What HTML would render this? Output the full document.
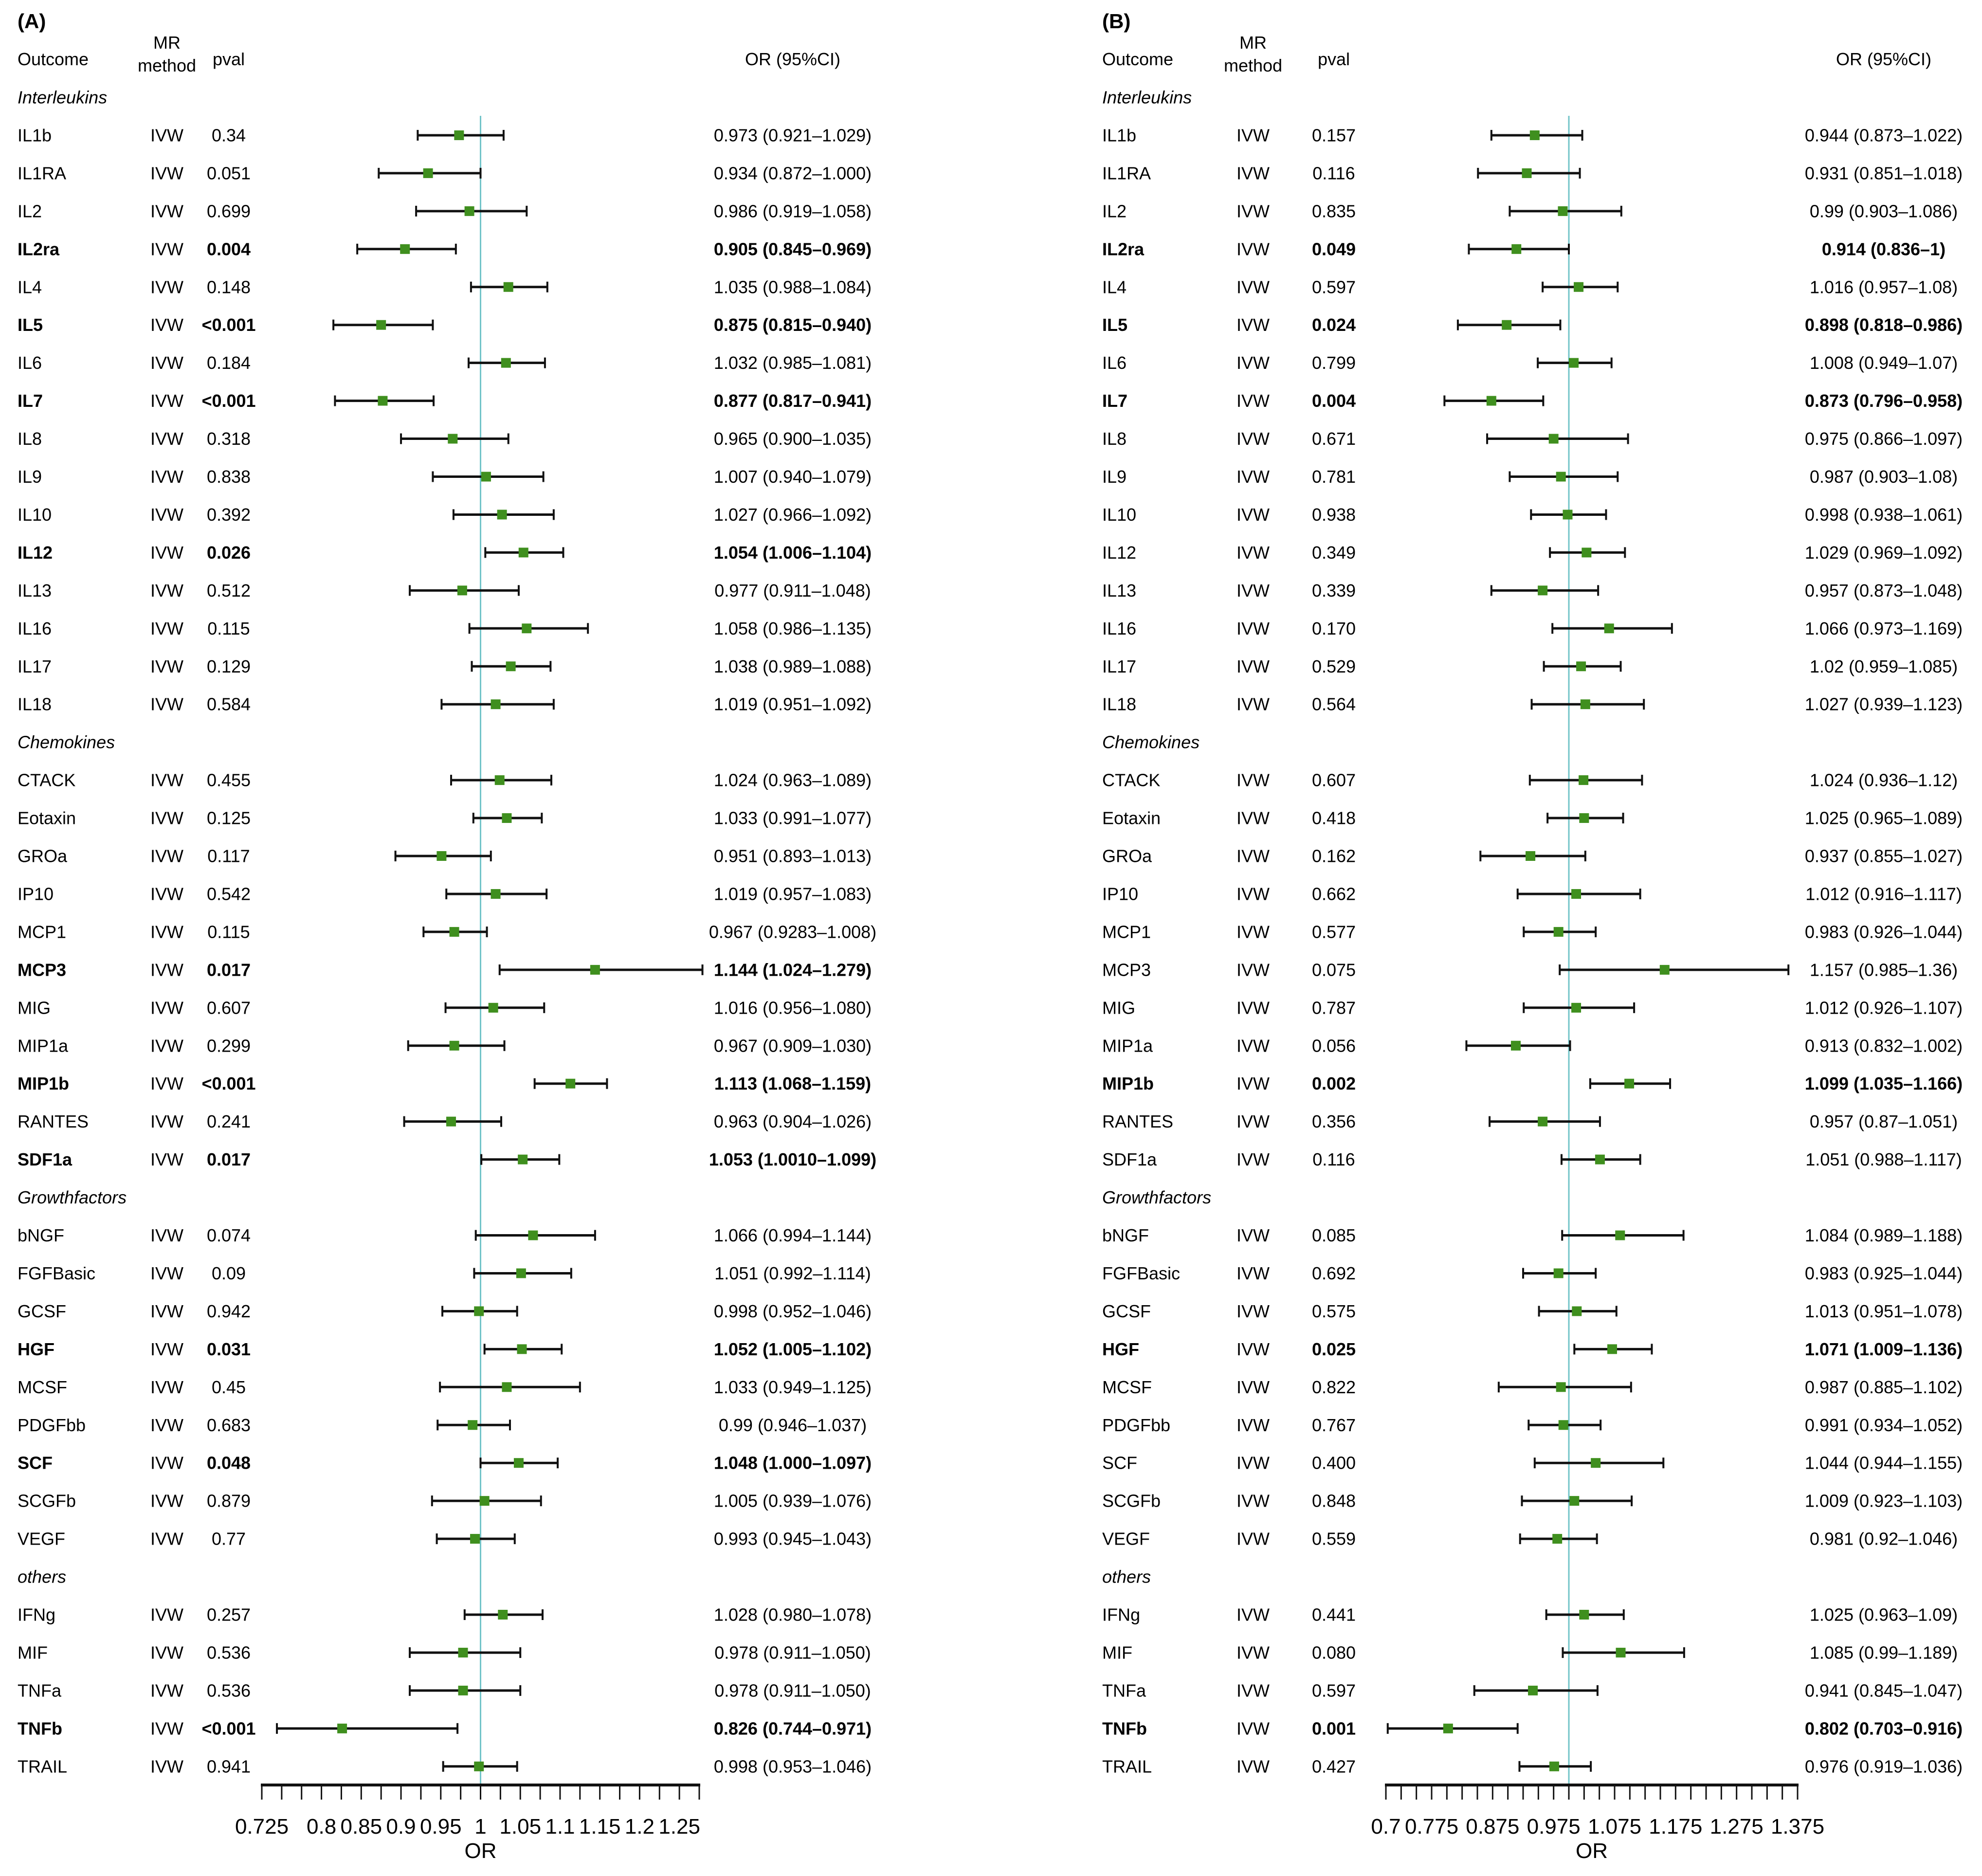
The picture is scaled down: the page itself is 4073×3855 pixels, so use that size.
<!DOCTYPE html>
<html><head><meta charset="utf-8"><style>
html,body{margin:0;padding:0;background:#fff}
svg{display:block;font-family:"Liberation Sans",sans-serif}
</style></head><body>
<svg id="chart" xmlns="http://www.w3.org/2000/svg" width="4073" height="3855" viewBox="0 0 4073 3855"></svg>
<script>
const rowNames = ["IL1b","IL1RA","IL2","IL2ra","IL4","IL5","IL6","IL7","IL8","IL9","IL10","IL12","IL13","IL16","IL17","IL18","CTACK","Eotaxin","GROa","IP10","MCP1","MCP3","MIG","MIP1a","MIP1b","RANTES","SDF1a","bNGF","FGFBasic","GCSF","HGF","MCSF","PDGFbb","SCF","SCGFb","VEGF","IFNg","MIF","TNFa","TNFb","TRAIL"];
const groupNames = ["Interleukins","Chemokines","Growthfactors","others"];
const groupSizes = [16,11,9,5];

const orA = [0.973,0.934,0.986,0.905,1.035,0.875,1.032,0.877,0.965,1.007,1.027,1.054,0.977,1.058,1.038,1.019,1.024,1.033,0.951,1.019,0.967,1.144,1.016,0.967,1.113,0.963,1.053,1.066,1.051,0.998,1.052,1.033,0.99,1.048,1.005,0.993,1.028,0.978,0.978,0.826,0.998];
const loA = [0.921,0.872,0.919,0.845,0.988,0.815,0.985,0.817,0.900,0.940,0.966,1.006,0.911,0.986,0.989,0.951,0.963,0.991,0.893,0.957,0.9283,1.024,0.956,0.909,1.068,0.904,1.001,0.994,0.992,0.952,1.005,0.949,0.946,1.000,0.939,0.945,0.980,0.911,0.911,0.744,0.953];
const hiA = [1.029,1.000,1.058,0.969,1.084,0.940,1.081,0.941,1.035,1.079,1.092,1.104,1.048,1.135,1.088,1.092,1.089,1.077,1.013,1.083,1.008,1.279,1.080,1.030,1.159,1.026,1.099,1.144,1.114,1.046,1.102,1.125,1.037,1.097,1.076,1.043,1.078,1.050,1.050,0.971,1.046];
const pA = ["0.34","0.051","0.699","0.004","0.148","<0.001","0.184","<0.001","0.318","0.838","0.392","0.026","0.512","0.115","0.129","0.584","0.455","0.125","0.117","0.542","0.115","0.017","0.607","0.299","<0.001","0.241","0.017","0.074","0.09","0.942","0.031","0.45","0.683","0.048","0.879","0.77","0.257","0.536","0.536","<0.001","0.941"];
const ciA = ["0.973 (0.921–1.029)","0.934 (0.872–1.000)","0.986 (0.919–1.058)","0.905 (0.845–0.969)","1.035 (0.988–1.084)","0.875 (0.815–0.940)","1.032 (0.985–1.081)","0.877 (0.817–0.941)","0.965 (0.900–1.035)","1.007 (0.940–1.079)","1.027 (0.966–1.092)","1.054 (1.006–1.104)","0.977 (0.911–1.048)","1.058 (0.986–1.135)","1.038 (0.989–1.088)","1.019 (0.951–1.092)","1.024 (0.963–1.089)","1.033 (0.991–1.077)","0.951 (0.893–1.013)","1.019 (0.957–1.083)","0.967 (0.9283–1.008)","1.144 (1.024–1.279)","1.016 (0.956–1.080)","0.967 (0.909–1.030)","1.113 (1.068–1.159)","0.963 (0.904–1.026)","1.053 (1.0010–1.099)","1.066 (0.994–1.144)","1.051 (0.992–1.114)","0.998 (0.952–1.046)","1.052 (1.005–1.102)","1.033 (0.949–1.125)","0.99 (0.946–1.037)","1.048 (1.000–1.097)","1.005 (0.939–1.076)","0.993 (0.945–1.043)","1.028 (0.980–1.078)","0.978 (0.911–1.050)","0.978 (0.911–1.050)","0.826 (0.744–0.971)","0.998 (0.953–1.046)"];
const ticksA = [0.725,0.8,0.85,0.9,0.95,1,1.05,1.1,1.15,1.2,1.25];
const tickLabelsA = ["0.725","0.8","0.85","0.9","0.95","1","1.05","1.1","1.15","1.2","1.25"];

const orB = [0.944,0.931,0.99,0.914,1.016,0.898,1.008,0.873,0.975,0.987,0.998,1.029,0.957,1.066,1.02,1.027,1.024,1.025,0.937,1.012,0.983,1.157,1.012,0.913,1.099,0.957,1.051,1.084,0.983,1.013,1.071,0.987,0.991,1.044,1.009,0.981,1.025,1.085,0.941,0.802,0.976];
const loB = [0.873,0.851,0.903,0.836,0.957,0.818,0.949,0.796,0.866,0.903,0.938,0.969,0.873,0.973,0.959,0.939,0.936,0.965,0.855,0.916,0.926,0.985,0.926,0.832,1.035,0.87,0.988,0.989,0.925,0.951,1.009,0.885,0.934,0.944,0.923,0.92,0.963,0.99,0.845,0.703,0.919];
const hiB = [1.022,1.018,1.086,1,1.08,0.986,1.07,0.958,1.097,1.08,1.061,1.092,1.048,1.169,1.085,1.123,1.12,1.089,1.027,1.117,1.044,1.36,1.107,1.002,1.166,1.051,1.117,1.188,1.044,1.078,1.136,1.102,1.052,1.155,1.103,1.046,1.09,1.189,1.047,0.916,1.036];
const pB = ["0.157","0.116","0.835","0.049","0.597","0.024","0.799","0.004","0.671","0.781","0.938","0.349","0.339","0.170","0.529","0.564","0.607","0.418","0.162","0.662","0.577","0.075","0.787","0.056","0.002","0.356","0.116","0.085","0.692","0.575","0.025","0.822","0.767","0.400","0.848","0.559","0.441","0.080","0.597","0.001","0.427"];
const ciB = ["0.944 (0.873–1.022)","0.931 (0.851–1.018)","0.99 (0.903–1.086)","0.914 (0.836–1)","1.016 (0.957–1.08)","0.898 (0.818–0.986)","1.008 (0.949–1.07)","0.873 (0.796–0.958)","0.975 (0.866–1.097)","0.987 (0.903–1.08)","0.998 (0.938–1.061)","1.029 (0.969–1.092)","0.957 (0.873–1.048)","1.066 (0.973–1.169)","1.02 (0.959–1.085)","1.027 (0.939–1.123)","1.024 (0.936–1.12)","1.025 (0.965–1.089)","0.937 (0.855–1.027)","1.012 (0.916–1.117)","0.983 (0.926–1.044)","1.157 (0.985–1.36)","1.012 (0.926–1.107)","0.913 (0.832–1.002)","1.099 (1.035–1.166)","0.957 (0.87–1.051)","1.051 (0.988–1.117)","1.084 (0.989–1.188)","0.983 (0.925–1.044)","1.013 (0.951–1.078)","1.071 (1.009–1.136)","0.987 (0.885–1.102)","0.991 (0.934–1.052)","1.044 (0.944–1.155)","1.009 (0.923–1.103)","0.981 (0.92–1.046)","1.025 (0.963–1.09)","1.085 (0.99–1.189)","0.941 (0.845–1.047)","0.802 (0.703–0.916)","0.976 (0.919–1.036)"];
const ticksB = [0.7,0.775,0.875,0.975,1.075,1.175,1.275,1.375];
const tickLabelsB = ["0.7","0.775","0.875","0.975","1.075","1.175","1.275","1.375"];

const NS = "http://www.w3.org/2000/svg";
const svg = document.getElementById('chart');
function mk(tag, attrs, parent){
  const e = document.createElementNS(NS, tag);
  for (const k in attrs) e.setAttribute(k, attrs[k]);
  (parent||svg).appendChild(e);
  return e;
}
const ROW0 = 200, ROWH = 77.95;
function rowY(i){ return ROW0 + i*ROWH; }

function panel(cfg){
  const g = mk('g', {});
  
  
  const X = v => cfg.x0 + (v - cfg.dmin) / (cfg.dmax - cfg.dmin) * (cfg.x1 - cfg.x0);
  let t;
  t = mk('text', {x: cfg.off+36, y: 58, 'font-size': 42, 'font-weight': 'bold'}, g); t.textContent = cfg.letter;
   
  t = mk('text', {x: cfg.off+36, y: 134, 'font-size': 36}, g); t.textContent = 'Outcome';
   
  t = mk('text', {x: cfg.mrX, y: 100, 'font-size': 36, 'text-anchor': 'middle'}, g); t.textContent = 'MR';
   
  t = mk('text', {x: cfg.mrX, y: 147, 'font-size': 36, 'text-anchor': 'middle'}, g); t.textContent = 'method';
   
  t = mk('text', {x: cfg.pX, y: 134, 'font-size': 36, 'text-anchor': 'middle'}, g); t.textContent = 'pval';
   
  t = mk('text', {x: cfg.ciX, y: 134, 'font-size': 36, 'text-anchor': 'middle'}, g); t.textContent = 'OR (95%CI)';
   

  const axisY = 3668;
  const ref = mk('line', {x1: X(1), x2: X(1), y1: 238, y2: axisY, stroke: '#72c4c9', 'stroke-width': 3}, g);
  
  

  let line = 0, idx = 0;
  for (let gi = 0; gi < groupNames.length; gi++){
    const gt = mk('text', {x: cfg.off+36, y: rowY(line), 'font-size': 36, 'font-style': 'italic', 'dominant-baseline': 'central'}, g);
    gt.textContent = groupNames[gi];
    
    
    line++;
    for (let k = 0; k < groupSizes[gi]; k++){
      const y = rowY(line);
      const p = cfg.p[idx];
      const sig = p.startsWith('<') || parseFloat(p) < 0.05;
      const fw = sig ? 'bold' : 'normal';
      const rg = mk('g', {}, g);
      
      
      let e = mk('text', {x: cfg.off+36, y: y, 'font-size': 36, 'font-weight': fw, 'dominant-baseline': 'central'}, rg);
      e.textContent = rowNames[idx];
       
      e = mk('text', {x: cfg.mrX, y: y, 'font-size': 36, 'text-anchor': 'middle', 'dominant-baseline': 'central'}, rg);
      e.textContent = 'IVW';
       
      e = mk('text', {x: cfg.pX, y: y, 'font-size': 36, 'font-weight': fw, 'text-anchor': 'middle', 'dominant-baseline': 'central'}, rg);
      e.textContent = p;
       
      e = mk('text', {x: cfg.ciX, y: y, 'font-size': 36, 'font-weight': fw, 'text-anchor': 'middle', 'dominant-baseline': 'central'}, rg);
      e.textContent = cfg.ci[idx];
       
      const xl = X(cfg.lo[idx]), xh = X(cfg.hi[idx]), xo = X(cfg.or[idx]);
      e = mk('line', {x1: xl, x2: xh, y1: y, y2: y, stroke: '#111', 'stroke-width': 5}, rg);
       
      e = mk('line', {x1: xl, x2: xl, y1: y-11, y2: y+11, stroke: '#111', 'stroke-width': 4}, rg);
       
      e = mk('line', {x1: xh, x2: xh, y1: y-11, y2: y+11, stroke: '#111', 'stroke-width': 4}, rg);
       
      e = mk('rect', {x: xo-10, y: y-10, width: 20, height: 20, fill: '#3f8f1e'}, rg);
       
      line++; idx++;
    }
  }

  const ax = mk('g', {}, g);
  
  
  mk('line', {x1: cfg.x0-2, x2: cfg.x1+2, y1: axisY, y2: axisY, stroke: '#111', 'stroke-width': 6}, ax);
  const n = Math.round((cfg.dmax - cfg.dmin) / 0.025);
  for (let i = 0; i <= n; i++){
    const xv = X(cfg.dmin + i*0.025);
    const tk = mk('line', {x1: xv, x2: xv, y1: axisY, y2: axisY+30, stroke: '#111', 'stroke-width': 3}, ax);
    
    
  }
  for (let i = 0; i < cfg.ticks.length; i++){
    const tl = mk('text', {x: X(cfg.ticks[i]), y: 3768, 'font-size': 44, 'text-anchor': 'middle'}, ax);
    tl.textContent = cfg.tickLabels[i];
    
    
  }
  const xt = mk('text', {x: (cfg.x0 + cfg.x1) / 2, y: 3818, 'font-size': 44, 'text-anchor': 'middle'}, ax);
  xt.textContent = 'OR';
  
  
}

panel({id:'a', letter:'(A)', off:0, mrX:343, pX:470, ciX:1629, x0:538, x1:1437, dmin:0.725, dmax:1.275,
  or:orA, lo:loA, hi:hiA, p:pA, ci:ciA, ticks:ticksA, tickLabels:tickLabelsA});
panel({id:'b', letter:'(B)', off:2229, mrX:2575, pX:2741, ciX:3871, x0:2848, x1:3694, dmin:0.7, dmax:1.375,
  or:orB, lo:loB, hi:hiB, p:pB, ci:ciB, ticks:ticksB, tickLabels:tickLabelsB});
</script>
</body></html>
